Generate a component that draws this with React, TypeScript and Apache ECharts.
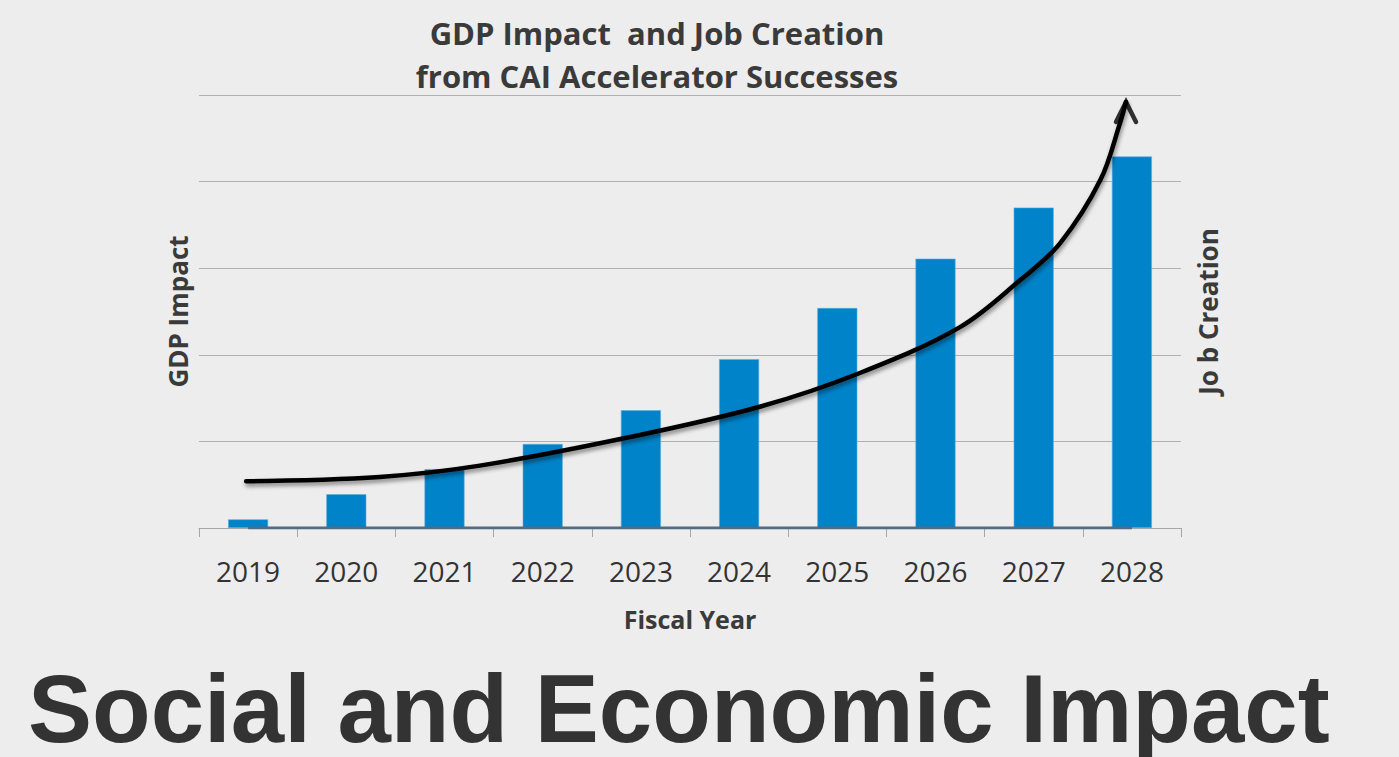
import React, { useEffect, useRef } from "react";
import * as echarts from "echarts";

const years = ["2019", "2020", "2021", "2022", "2023", "2024", "2025", "2026", "2027", "2028"];
const gdpImpact = [0.1, 0.39, 0.68, 0.97, 1.36, 1.95, 2.54, 3.11, 3.7, 4.29];
const jobCreation = [0, 0, 0, 0, 0, 0, 0, 0, 0, 0];
// growth arrow: [position along the year axis (0..10), value]
const trendCurve: [number, number][] = [
  [0.48, 0.54],
  [1.84, 0.59],
  [2.86, 0.72],
  [4.39, 1.05],
  [5.71, 1.4],
  [6.73, 1.79],
  [7.75, 2.32],
  [8.36, 2.86],
  [8.77, 3.29],
  [9.18, 4.02],
  [9.38, 4.68],
  [9.44, 4.92],
];
const arrowTip: [number, number] = [9.44, 4.92];
const yTicks = { min: 0, max: 5, interval: 1 };

const chartTitle = "GDP Impact  and Job Creation\nfrom CAI Accelerator Successes";
const bigCaption = "Social and Economic Impact";

export default function App() {
  const ref = useRef<HTMLDivElement>(null);
  useEffect(() => {
    if (!ref.current) return;
    const chart = echarts.init(ref.current, undefined, { renderer: "svg" });
    const titleFont = "'Open Sans', 'Noto Sans', sans-serif";
    chart.setOption({
      animation: false,
      backgroundColor: "#ededed",
      title: {
        text: chartTitle,
        left: 652,
        top: 6,
        textAlign: "center",
        textStyle: {
          fontFamily: titleFont,
          fontWeight: "bold",
          fontSize: 31,
          lineHeight: 43,
          color: "#3a3a3a",
        },
      },
      grid: { left: 199, right: 218, top: 95, bottom: 229, containLabel: false },
      xAxis: [
        {
          type: "category",
          data: years,
          boundaryGap: true,
          name: "Fiscal Year",
          nameLocation: "middle",
          nameGap: 78,
          nameTextStyle: {
            fontFamily: titleFont,
            fontWeight: "bold",
            fontSize: 25,
            color: "#3a3a3a",
          },
          axisLine: { show: true, lineStyle: { color: "#a6a6a6", width: 1 } },
          axisTick: { show: true, length: 9, lineStyle: { color: "#a6a6a6" } },
          axisLabel: {
            fontFamily: titleFont,
            fontSize: 28,
            color: "#333333",
            margin: 29,
          },
          splitLine: { show: false },
        },
        {
          type: "value",
          min: 0,
          max: 10,
          show: false,
        },
      ],
      yAxis: [
        {
          type: "value",
          min: yTicks.min,
          max: yTicks.max,
          interval: yTicks.interval,
          name: "GDP Impact",
          nameLocation: "middle",
          nameRotate: 90,
          nameGap: 8,
          nameTextStyle: {
            fontFamily: titleFont,
            fontWeight: "bold",
            fontSize: 26,
            color: "#3a3a3a",
          },
          axisLine: { show: false },
          axisTick: { show: false },
          axisLabel: { show: false },
          splitLine: { show: true, lineStyle: { color: "#b0b0b0", width: 1 } },
        },
        {
          type: "value",
          position: "right",
          min: yTicks.min,
          max: yTicks.max,
          interval: yTicks.interval,
          name: "Jo b Creation",
          nameLocation: "middle",
          nameRotate: 90,
          nameGap: 14,
          nameTextStyle: {
            fontFamily: titleFont,
            fontWeight: "bold",
            fontSize: 26,
            color: "#3a3a3a",
          },
          axisLine: { show: false },
          axisTick: { show: false },
          axisLabel: { show: false },
          splitLine: { show: false },
        },
      ],
      series: [
        {
          name: "GDP Impact",
          type: "bar",
          data: gdpImpact,
          barWidth: 40,
          itemStyle: { color: "#0083c9", borderColor: "#5aaee0", borderWidth: 0.6 },
          z: 2,
        },
        {
          name: "Job Creation",
          type: "line",
          data: jobCreation,
          yAxisIndex: 1,
          symbol: "none",
          lineStyle: { color: "#536b82", width: 3 },
          z: 3,
        },
        {
          name: "Trend",
          type: "line",
          xAxisIndex: 1,
          yAxisIndex: 0,
          data: trendCurve,
          smooth: 0.35,
          symbol: "none",
          lineStyle: {
            color: "#000000",
            width: 4.5,
            cap: "round",
            shadowColor: "rgba(0,0,0,0.45)",
            shadowBlur: 4,
            shadowOffsetX: 1,
            shadowOffsetY: 3,
          },
          z: 4,
        },
        {
          name: "Arrow",
          type: "scatter",
          xAxisIndex: 1,
          yAxisIndex: 0,
          data: [arrowTip],
          symbol: "path://M0 20 L10 0 L20 20",
          symbolSize: [20, 20],
          symbolKeepAspect: true,
          symbolOffset: [0, 10],
          itemStyle: {
            color: "rgba(0,0,0,0)",
            borderColor: "#000000",
            borderWidth: 4.5,
            borderCap: "round",
            borderJoin: "miter",
          },
          z: 5,
        },
      ],
      graphic: [
        {
          type: "text",
          left: 28,
          top: 660,
          style: {
            text: bigCaption,
            fontFamily: "'Liberation Sans', Arial, sans-serif",
            fontWeight: "bold",
            fontSize: 96,
            lineHeight: 92,
            fill: "#333333",
          },
        },
      ],
    });
    return () => chart.dispose();
  }, []);
  return (
    <div
      ref={ref}
      style={{ position: "fixed", left: 0, top: 0, width: 1399, height: 757 }}
    />
  );
}
